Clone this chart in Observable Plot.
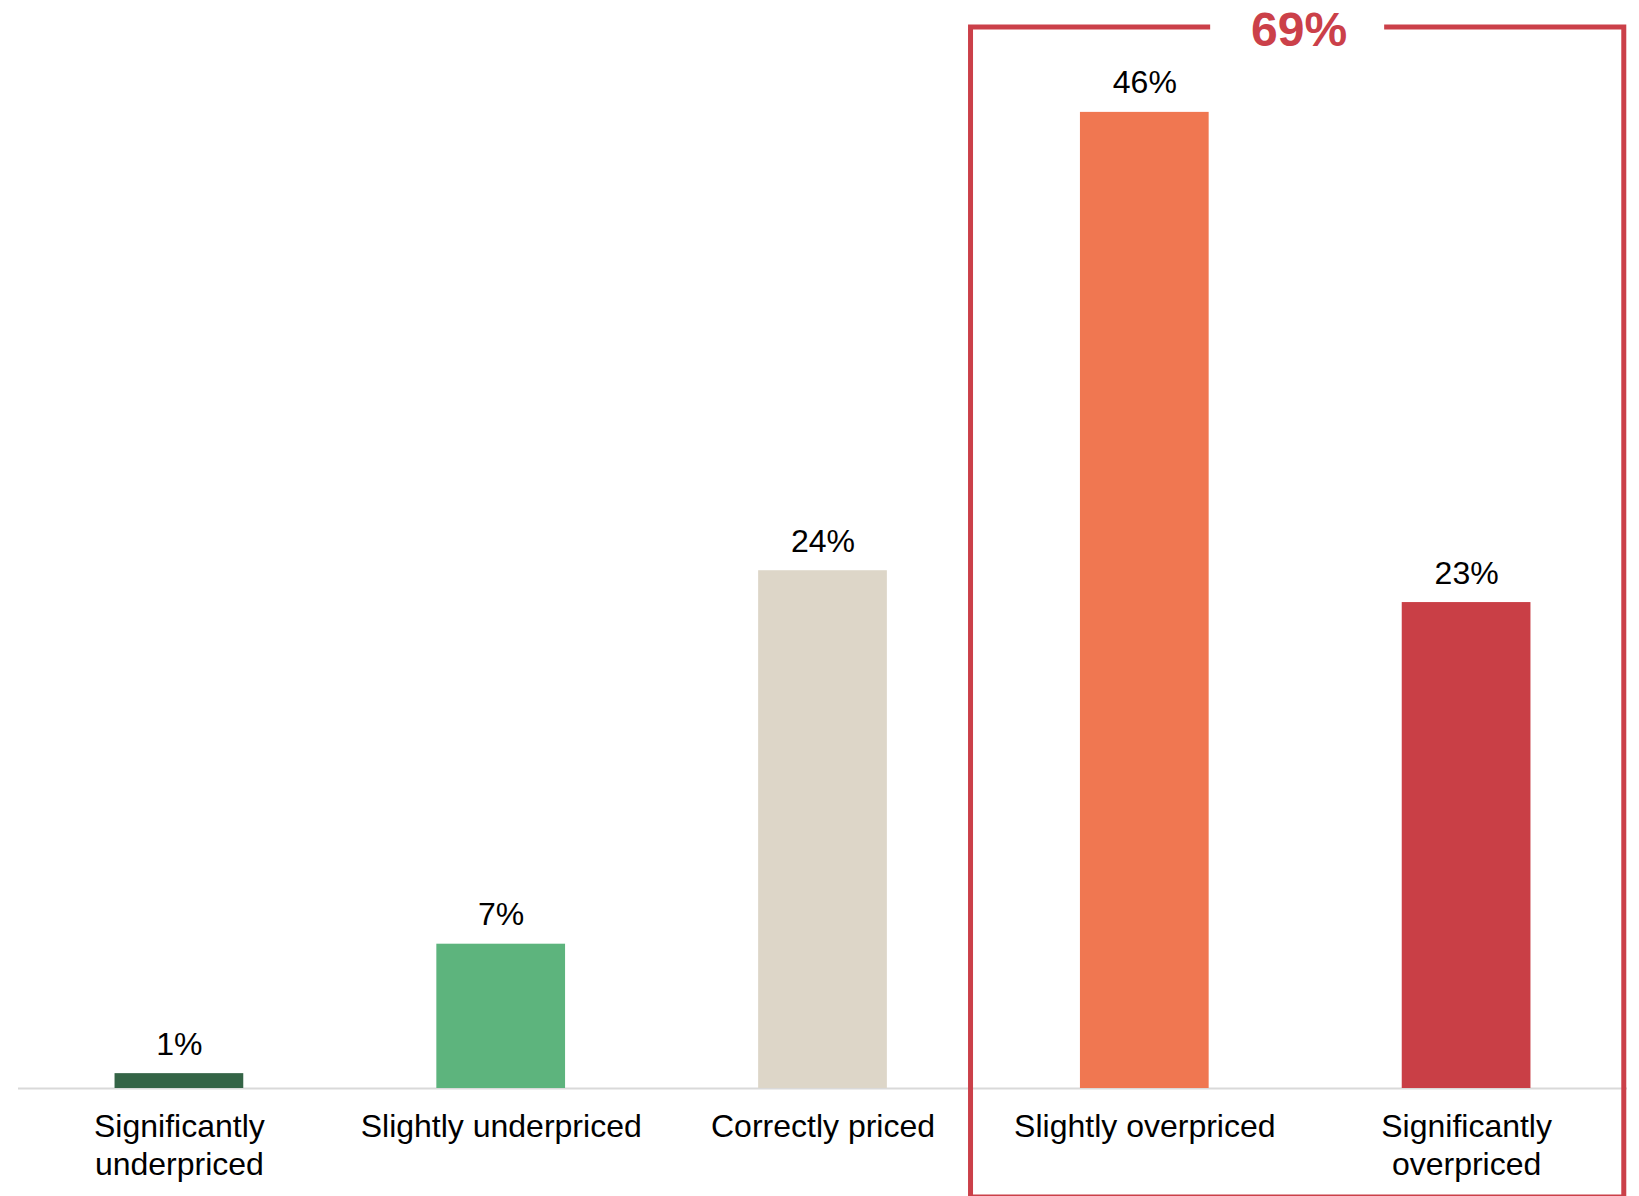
<!DOCTYPE html>
<html><head><meta charset="utf-8">
<script src="https://cdn.jsdelivr.net/npm/d3@7"></script>
<script src="https://cdn.jsdelivr.net/npm/@observablehq/plot@0.6"></script>
<style>body{margin:0;background:#fff} svg{display:block}</style>
</head><body><div id="chart"></div>
<script>
const categories = ["Significantly\nunderpriced", "Slightly underpriced", "Correctly priced", "Slightly overpriced", "Significantly\noverpriced"];
const values = [0.7, 6.8, 24.4, 46, 22.9];
const valueLabels = ["1%", "7%", "24%", "46%", "23%"];
const colors = ["#346446", "#5DB47D", "#DDD6C8", "#F07751", "#C93F46"];
const groupCategories = [categories[3], categories[4]];
const groupLabel = "69%";
const groupTop = 50;

const data = categories.map((c, i) => ({category: c, value: values[i], label: valueLabels[i], color: colors[i]}));

const W = 1639, H = 1196;
const FONT = "'Liberation Sans', Arial, sans-serif";
const RED = "#CB4049";

function groupBox(index, scales, vals, dims) {
  const x = scales.x, y = scales.y;
  const a = x(groupCategories[0]), b = x(groupCategories[1]);
  const step = b - a;
  const bw = typeof x.bandwidth === "function" ? x.bandwidth() : step * 0.4;
  const left = a - 0.34 * step, right = b + bw + 0.29 * step;
  const top = y(groupTop);
  const bottom = dims.height + 1;
  const cx = (left + right) / 2;
  const gap = 87;
  const g = d3.create("svg:g");
  g.append("path")
    .attr("d", `M${cx - gap},${top}H${left}V${bottom}H${right}V${top}H${cx + gap}`)
    .attr("fill", "none").attr("stroke", RED).attr("stroke-width", 5);
  g.append("text")
    .attr("x", cx + 2).attr("y", top).attr("dy", "0.4em")
    .attr("text-anchor", "middle")
    .attr("font-family", FONT).attr("font-weight", "bold").attr("font-size", 48)
    .attr("fill", RED).text(groupLabel);
  return g.node();
}

const plot = Plot.plot({
  width: W, height: H,
  marginTop: 27, marginBottom: 108, marginLeft: 18, marginRight: 12,
  style: {fontFamily: FONT, background: "#fff", overflow: "visible"},
  x: {domain: categories, paddingInner: 0.6, paddingOuter: 0.3, round: false, axis: null},
  y: {domain: [0, 50], axis: null},
  color: {type: "identity"},
  marks: [
    Plot.ruleY([0], {stroke: "#D9D9D9", strokeWidth: 2}),
    Plot.barY(data, {x: "category", y: "value", fill: d => d.color}),
    Plot.text(data, {x: "category", y: "value", text: "label", dy: -19, lineAnchor: "bottom", fontSize: 32, fill: "#000"}),
    Plot.text(data, {x: "category", y: 0, text: "category", dy: 22, lineAnchor: "top", lineHeight: 1.17, fontSize: 32, fill: "#000"}),
    groupBox
  ]
});
document.getElementById("chart").append(plot);
</script>
</body></html>
